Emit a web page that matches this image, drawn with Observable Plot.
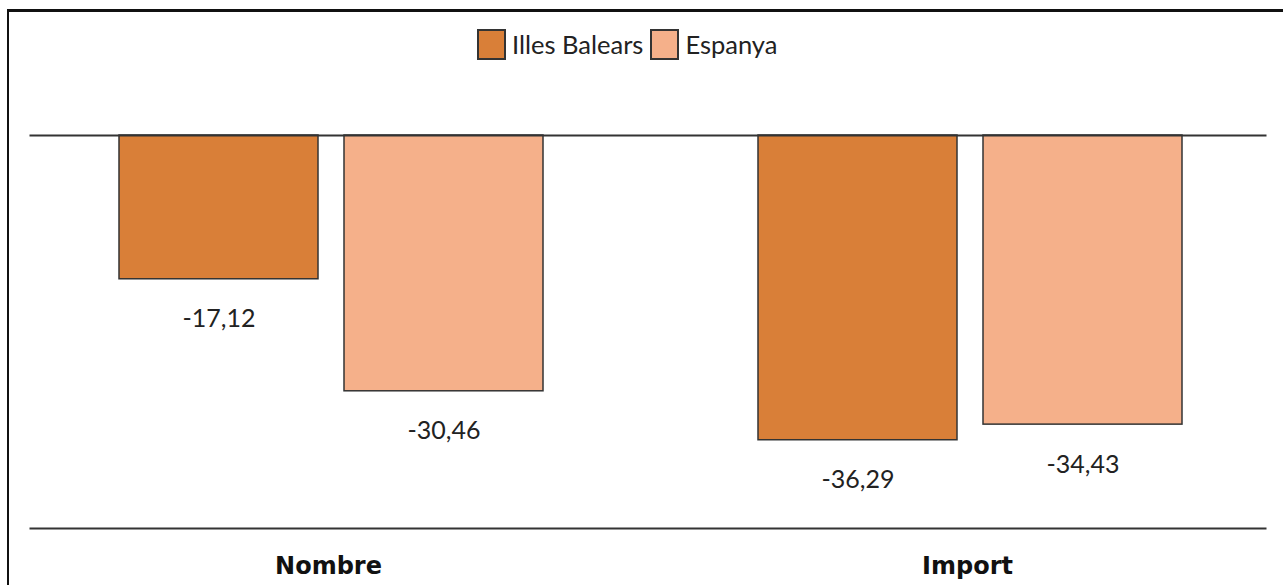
<!DOCTYPE html>
<html><head><meta charset="utf-8">
<script src="https://cdn.jsdelivr.net/npm/d3@7"></script>
<script src="https://cdn.jsdelivr.net/npm/@observablehq/plot@0.6"></script>
<style>
body{margin:0;background:#fff;}
#wrap{position:relative;width:1283px;height:585px;overflow:hidden;font-family:Lato,"Open Sans",sans-serif;}
#frame{position:absolute;left:7px;top:9px;width:1300px;height:600px;border-top:3px solid #111;border-left:2px solid #111;}
#legend{position:absolute;top:29px;left:477px;display:flex;align-items:center;font-size:25.5px;color:#222;line-height:1;}
#legend .item{display:flex;align-items:center;}
#legend .sw{width:29px;height:31px;border:2px solid #333;box-sizing:border-box;margin-right:6px;}
#legend .lab{margin-right:7px;}
#chart{position:absolute;top:80px;left:0;}
</style>
</head><body>
<div id="wrap"><div id="frame"></div><div id="legend"></div><div id="chart"></div></div>
<script>
const categories = ["Nombre", "Import"];
const series = ["Illes Balears", "Espanya"];
const illesBalears = [-17.12, -36.29];
const espanya = [-30.46, -34.43];
const colors = ["#D97F38", "#F5B08A"];
const yMin = -46.8;

const values = [illesBalears, espanya];
const data = [];
categories.forEach((c, i) => series.forEach((s, j) => data.push({cat: c, series: s, value: values[j][i]})));
const fmt = v => d3.format(".2f")(v).replace("\u2212", "-").replace(".", ",");

const legend = document.getElementById("legend");
series.forEach((s, j) => {
  const it = document.createElement("div"); it.className = "item";
  const sw = document.createElement("div"); sw.className = "sw"; sw.style.background = colors[j];
  const lb = document.createElement("span"); lb.className = "lab"; lb.textContent = s;
  it.appendChild(sw); it.appendChild(lb); legend.appendChild(it);
});

const chart = Plot.plot({
  width: 1283,
  height: 505,
  marginLeft: 30,
  marginRight: 17,
  marginTop: 55,
  marginBottom: 57,
  style: {fontFamily: "Lato, 'Open Sans', sans-serif", background: "transparent", overflow: "visible"},
  fx: {domain: categories, paddingInner: 0.0672, paddingOuter: 0, label: null},
  x: {domain: series, paddingInner: 0.115, paddingOuter: 0.3772, align: 0.516, axis: null},
  y: {domain: [yMin, 0], axis: null},
  color: {domain: series, range: colors},
  marks: [
    Plot.axisFx({anchor: "bottom", tickSize: 0, tickPadding: 28, fontSize: 24, fontWeight: "bold", fill: "#111", label: null, fontFamily: "'DejaVu Sans', sans-serif"}),
    Plot.barY(data, {fx: "cat", x: "series", y: "value", fill: "series", stroke: "#333", strokeWidth: 1.5}),
    Plot.text(data, {fx: "cat", x: "series", y: "value", text: d => fmt(d.value), dy: 40, fontSize: 25, fill: "#222"}),
    Plot.frame({anchor: "top", facet: "super", stroke: "#333", strokeWidth: 2}),
    Plot.frame({anchor: "bottom", facet: "super", stroke: "#333", strokeWidth: 2})
  ]
});
document.getElementById("chart").appendChild(chart);
</script>
</body></html>
